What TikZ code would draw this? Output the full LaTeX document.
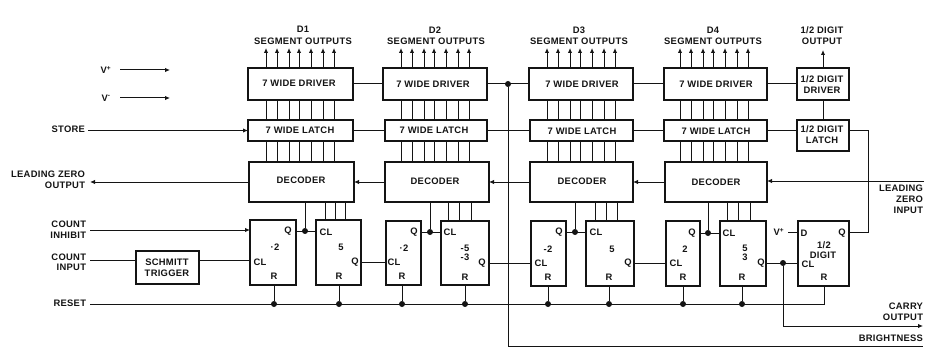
\documentclass[tikz,border=0pt]{standalone}
\usepackage{fontspec}
\setmainfont{Liberation Sans}[LetterSpace=3]
\usetikzlibrary{arrows.meta}
\newcounter{lblno}
\newcommand{\lbl}[3][center]{\stepcounter{lblno}\node[txt,anchor=#1] (t\thelblno) at (#2) {#3};}
\tikzset{
  bx/.style={draw=ink,line width=1.9pt,inner sep=0pt,outer sep=0pt,fill=white},
  txt/.style={inner sep=0pt,outer sep=0pt,font=\fontsize{9.4}{10}\selectfont\bfseries,text=ink,align=center},
  wire/.style={draw=ink,line width=1pt},
  arr/.style={wire,-{Latex[length=5pt,width=4.5pt]}},
  dot/.style={circle,fill=ink,inner sep=0pt,minimum size=6pt},
}
\definecolor{ink}{gray}{0.08}
\newcommand{\bxn}[5]{\node[bx,minimum width=#4pt-#2pt,minimum height=#5pt-#3pt] (#1) at ({(#2+#4)/2},{(#3+#5)/2}) {};}
\begin{document}
\begin{tikzpicture}[x=1pt,y=-1pt]
\useasboundingbox (0,0) rectangle (931,350);
% drivers
\bxn{drva}{248}{68}{353}{100}
\bxn{drvb}{383}{68}{487}{100}
\bxn{drvc}{529}{68}{633}{100}
\bxn{drvd}{664}{68}{767}{100}
\bxn{drve}{797}{68}{849}{100}
% latches
\bxn{lata}{248}{120}{353}{141}
\bxn{latb}{385}{120}{487}{141}
\bxn{latc}{530}{120}{633}{141}
\bxn{latd}{664}{120}{767}{141}
\bxn{late}{797}{120}{849}{151}
% decoders
\bxn{deca}{249}{162}{354}{202}
\bxn{decb}{385}{162}{489}{202}
\bxn{decc}{530}{162}{633}{202}
\bxn{decd}{665}{162}{767}{202}
% counters
\bxn{ffa}{250}{220}{296}{285}
\bxn{ffb}{316}{220}{361}{285}
\bxn{ffc}{386}{221}{421}{285}
\bxn{ffd}{441}{221}{489}{285}
\bxn{ffe}{531}{221}{566}{286}
\bxn{fff}{586}{221}{634}{286}
\bxn{ffg}{666}{221}{700}{286}
\bxn{ffh}{720}{221}{766}{286}
\bxn{ffi}{798}{221}{849}{286}
\bxn{sch}{136}{251}{199}{284}
% free ends
\coordinate (vpa) at (120,70); \coordinate (vpae) at (170,70);
\coordinate (vpb) at (120,98); \coordinate (vpbe) at (170,98);
\coordinate (sto) at (88,130.5);
\coordinate (lzo) at (90,182);
\coordinate (lzi) at (924,181);
\coordinate (inh) at (90,230);
\coordinate (cin) at (90,260);
\coordinate (rst) at (90,304);
\coordinate (cary) at (923,326);
\coordinate (brt) at (923,346);
\coordinate (vpc) at (788,232);
% segment wires
\foreach \n/\o in {a/18,b/18,c/18,d/16}{
  \foreach \s in {0,11,23,33,45,57,68}{
    \draw[arr] ([xshift=\o pt+\s pt]drv\n.north west) -- ++(0,-20);
    \draw[wire] ([xshift=\o pt+\s pt]drv\n.south west) -- ([xshift=\o pt+\s pt]drv\n.south west |- lat\n.north);
    \draw[wire] ([xshift=\o pt+\s pt]drv\n.south west |- lat\n.south) -- ([xshift=\o pt+\s pt]drv\n.south west |- dec\n.north);
  }
}
\draw[arr] (drve.north) -- ++(0,-18);
\draw[wire] (drve.south) -- (late.north);
% bus wires
\draw[wire] (drva.east) -- (drvb.west);
\draw[wire] (drvb.east) -- (drvc.west);
\draw[wire] (drvc.east) -- (drvd.west);
\draw[wire] (drvd.east) -- (drve.west);
\draw[wire] (lata.east) -- (latb.west);
\draw[wire] (latb.east) -- (latc.west);
\draw[wire] (latc.east) -- (latd.west);
\draw[wire] (latd.east) -- (late.west |- latd.east);
\draw[arr] (decb.west) -- (deca.east |- decb.west);
\draw[arr] (decc.west) -- (decb.east |- decc.west);
\draw[arr] (decd.west) -- (decc.east |- decd.west);
\draw[arr] (lzi) -- (decd.east |- lzi);
\draw[arr] (deca.west) -- (lzo);
\draw[arr] (vpa) -- (vpae);
\draw[arr] (vpb) -- (vpbe);
\draw[arr] (sto) -- (lata.west);
\draw[arr] (inh) -- (ffa.west |- inh);
\draw[wire] (cin) -- (sch.west |- cin);
\draw[wire] (sch.east |- cin) -- (ffa.west |- cin);
% brightness
\node[dot] (jb) at (508,84) {};
\draw[wire] (jb) -- (jb |- brt) -- (brt);
% half digit latch to Q
\draw[wire] (late.east |- latd.east) -| (868,232) -- (ffi.east |- 0,232);
% Q wires and junctions
\foreach \l/\r/\y in {ffa/ffb/231, ffc/ffd/232, ffe/fff/232, ffg/ffh/233}{
  \draw[wire] (\l.east |- 0,\y) -- (\r.west |- 0,\y);
}
\node[dot] (ja) at (305,231) {};
\node[dot] (jc) at (430,232) {};
\node[dot] (je) at (575,232) {};
\node[dot] (jg) at (708,233) {};
\draw[wire] (ja) -- (ja |- deca.south);
\draw[wire] (jc) -- (jc |- decb.south);
\draw[wire] (je) -- (je |- decc.south);
\draw[wire] (jg) -- (jg |- decd.south);
\foreach \f/\d/\a/\b/\c in {ffb/deca/325/335/345, ffd/decb/448/459/471, fff/decc/595/606/617, ffh/decd/727/738/750}{
  \foreach \x in {\a,\b,\c}{\draw[wire] (\x,0 |- \f.north) -- (\x,0 |- \d.south);}
}
\draw[wire] (ffb.east |- 0,262) -- (ffc.west |- 0,262);
\draw[wire] (ffd.east |- 0,263) -- (ffe.west |- 0,263);
\draw[wire] (fff.east |- 0,263) -- (ffg.west |- 0,263);
\node[dot] (jh) at (783,263) {};
\draw[wire] (ffh.east |- jh) -- (ffi.west |- jh);
\draw[wire,-{Latex[length=5pt,width=4.5pt]}] (jh) -- (jh |- cary) -- (cary);
\draw[wire] (vpc) -- (ffi.west |- vpc);
% reset
\draw[wire] (rst) -- (824,304) -- (824,0 |- ffi.south);
\foreach \f/\x in {ffa/274,ffb/339,ffc/402,ffd/465,ffe/548,fff/609,ffg/683,ffh/742}{
  \node[dot] (r\f) at (\x,304) {};
  \draw[wire] (r\f) -- (r\f |- \f.south);
}
% texts
\lbl{303,29}{D1}\lbl{303,41}{SEGMENT OUTPUTS}
\lbl{435,30}{D2}\lbl{436,41}{SEGMENT OUTPUTS}
\lbl{579,30}{D3}\lbl{579,41}{SEGMENT OUTPUTS}
\lbl{713,30}{D4}\lbl{713,41}{SEGMENT OUTPUTS}
\lbl{822,30}{1/2 DIGIT}\lbl{822,41}{OUTPUT}
\lbl{299,83}{7 WIDE DRIVER}\lbl{433,84}{7 WIDE DRIVER}\lbl{582,84}{7 WIDE DRIVER}\lbl{716,84}{7 WIDE DRIVER}
\lbl{300,130}{7 WIDE LATCH}\lbl{434,130}{7 WIDE LATCH}\lbl{582,131}{7 WIDE LATCH}\lbl{716,131}{7 WIDE LATCH}
\lbl{301,180}{DECODER}\lbl{435,181}{DECODER}\lbl{582,181}{DECODER}\lbl{716,182}{DECODER}
\lbl{822,79}{1/2 DIGIT}\lbl{822,90}{DRIVER}
\lbl{822,129}{1/2 DIGIT}\lbl{822,140}{LATCH}
\lbl{167,262}{SCHMITT}\lbl{167,273}{TRIGGER}
\lbl{106,70}{V\textsuperscript{+}}\lbl{106,98}{V\textsuperscript{-}}
\lbl[east]{85,129}{STORE}
\lbl[east]{85,174}{LEADING ZERO}\lbl[east]{85,185}{OUTPUT}
\lbl[east]{86,224}{COUNT}\lbl[east]{86,235}{INHIBIT}
\lbl[east]{86,257}{COUNT}\lbl[east]{86,267}{INPUT}
\lbl[east]{86,303}{RESET}
\lbl[east]{923,188}{LEADING}\lbl[east]{923,199}{ZERO}\lbl[east]{923,210}{INPUT}
\lbl[east]{923,306}{CARRY}\lbl[east]{923,317}{OUTPUT}
\lbl[east]{923,338}{BRIGHTNESS}
% counter texts
\lbl{288,231}{Q}\lbl{275,247}{·2}\lbl{260,262}{CL}\lbl{274,276}{R}
\lbl{326,232}{CL}\lbl{341,247}{5}\lbl{355,262}{Q}\lbl{339,276}{R}
\lbl{414,232}{Q}\lbl{404,248}{·2}\lbl{394,262}{CL}\lbl{402,276}{R}
\lbl{450,232}{CL}\lbl{465,248}{-5}\lbl{465,257}{-3}\lbl{482,263}{Q}\lbl{465,277}{R}
\lbl{559,232}{Q}\lbl{548,249}{-2}\lbl{541,263}{CL}\lbl{548,277}{R}
\lbl{596,232}{CL}\lbl{612,249}{5}\lbl{628,263}{Q}\lbl{609,277}{R}
\lbl{692,233}{Q}\lbl{685,249}{2}\lbl{676,263}{CL}\lbl{683,277}{R}
\lbl{729,233}{CL}\lbl{745,248}{5}\lbl{745,257}{3}\lbl{761,263}{Q}\lbl{742,277}{R}
\lbl{804,233}{D}\lbl{842,233}{Q}\lbl{824,245}{1/2}\lbl{823,255}{DIGIT}\lbl{808,264}{CL}\lbl{824,277}{R}
\lbl{779,232}{V\textsuperscript{+}}
\end{tikzpicture}
\end{document}
